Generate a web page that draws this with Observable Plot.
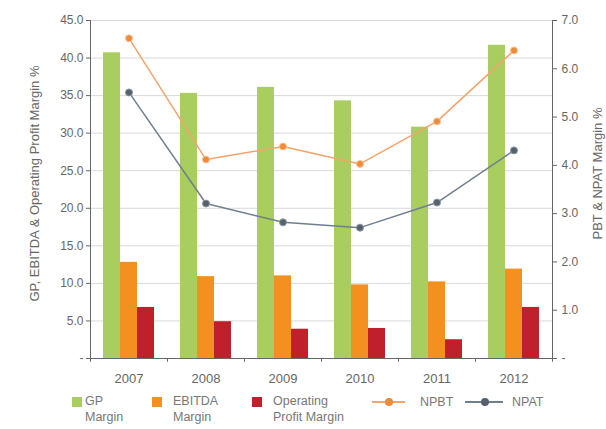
<!DOCTYPE html>
<html><head><meta charset="utf-8">
<script src="https://cdn.jsdelivr.net/npm/d3@7"></script>
<script src="https://cdn.jsdelivr.net/npm/@observablehq/plot@0.6"></script>
<style>
body{margin:0;background:#fff;font-family:"Liberation Sans",Arial,sans-serif;}
#wrap{position:relative;width:606px;height:429px;overflow:hidden;}
#wrap svg{position:absolute;left:0;top:0;}
.lg{position:absolute;font-size:12.5px;color:#777;line-height:16px;white-space:nowrap;}
.sw{position:absolute;width:10px;height:10px;}
.ln{position:absolute;height:2px;}
.mk{position:absolute;width:8px;height:8px;border-radius:50%;}
</style></head><body><div id="wrap"></div>
<script>
const years = ["2007","2008","2009","2010","2011","2012"];
const gpMargin = [40.7,35.3,36.1,34.3,30.8,41.7];
const ebitdaMargin = [12.8,10.9,11.0,9.8,10.2,11.9];
const opMargin = [6.8,4.9,3.9,4.0,2.5,6.8];
const npbt = [6.63,4.12,4.39,4.03,4.91,6.38];
const npat = [5.51,3.21,2.82,2.71,3.23,4.31];
const leftTicks = [0,5,10,15,20,25,30,35,40,45];
const rightTicks = [0,1,2,3,4,5,6,7];
const leftTitle = "GP, EBITDA & Operating Profit Margin %";
const rightTitle = "PBT & NPAT Margin %";
const legendItems = ["GP\nMargin","EBITDA\nMargin","Operating\nProfit Margin","NPBT","NPAT"];

const colors = {gp:"#a9cd5f", ebitda:"#f39020", op:"#c0202c", npbt:"#f4a46c", npbtDot:"#ef8a36", npat:"#6f7f8e", npatDot:"#55626d"};

const rows = years.map((year,i)=>({year, gp:gpMargin[i], ebitda:ebitdaMargin[i], op:opMargin[i], npbt:npbt[i], npat:npat[i]}));
const k = 45/7;
const W=606, H=392, ml=90, mr=54, mt=20, mb=34;
const bw = (W-ml-mr)/years.length;
const barW = 17;
const g0 = (bw - 3*barW)/2;
const bar = (key, i) => Plot.barY(rows, {x:"year", y:key, fill:colors[key], insetLeft: g0 + i*barW, insetRight: bw - g0 - (i+1)*barW});

const chart = Plot.plot({
  width: W, height: H, marginLeft: ml, marginRight: mr, marginTop: mt, marginBottom: mb,
  style: {fontFamily: '"Liberation Sans", Arial, sans-serif', background: "#fff"},
  x: {type:"band", domain: years, padding: 0},
  y: {domain: [0,45]},
  marks: [
    Plot.ruleY(leftTicks.slice(1), {stroke:"#d9d9d9"}),
    bar("gp",0), bar("ebitda",1), bar("op",2),
    Plot.ruleY([0], {stroke:"#666"}),
    Plot.ruleX([years[0]], {x: d=>d, dx: -bw/2, y1:0, y2:45, stroke:"#666"}),
    Plot.ruleX([years[years.length-1]], {x: d=>d, dx: bw/2, y1:0, y2:45, stroke:"#666"}),
    Plot.ruleX(years, {x: d=>d, dx: -bw/2, y1:0, y2:-0.5, stroke:"#666"}),
    Plot.ruleX([years[years.length-1]], {x: d=>d, dx: bw/2, y1:0, y2:-0.5, stroke:"#666"}),
    Plot.axisY(leftTicks, {anchor:"left", tickSize:4, tickPadding:3, tickFormat: d => d===0 ? "-" : d.toFixed(1), fontSize:12, color:"#666", label:null}),
    Plot.axisY(rightTicks.map(v=>v*k), {anchor:"right", tickSize:4, tickPadding:5, tickFormat: d => { const v = Math.round(d/k); return v===0 ? "-" : v.toFixed(1); }, fontSize:12, color:"#666", label:null}),
    Plot.axisX({tickSize:0, tickPadding:15, fontSize:13, color:"#666", label:null}),
    Plot.text([leftTitle], {frameAnchor:"left", textAnchor:"middle", dx:-56, dy:-6, rotate:-90, fontSize:13, fill:"#666"}),
    Plot.text([rightTitle], {frameAnchor:"right", textAnchor:"middle", dx:45, dy:-16, rotate:-90, fontSize:13, fill:"#666"}),
    Plot.line(rows, {x:"year", y: d=>d.npbt*k, stroke:colors.npbt, strokeWidth:1.5}),
    Plot.dot(rows, {x:"year", y: d=>d.npbt*k, r:3.5, fill:colors.npbtDot, stroke:"#f6c49a", strokeWidth:1}),
    Plot.line(rows, {x:"year", y: d=>d.npat*k, stroke:colors.npat, strokeWidth:1.5}),
    Plot.dot(rows, {x:"year", y: d=>d.npat*k, r:3.5, fill:colors.npatDot, stroke:"#8a96a0", strokeWidth:1})
  ]
});
const wrap = document.getElementById("wrap");
wrap.appendChild(chart);

function add(cls, css, text){ const e=document.createElement("div"); e.className=cls; Object.assign(e.style, css); if(text!=null) e.innerText=text; wrap.appendChild(e); return e; }
// legend
add("sw", {left:"72px", top:"397px", background:colors.gp});
add("lg", {left:"85px", top:"393px"}, legendItems[0]);
add("sw", {left:"152px", top:"397px", background:colors.ebitda});
add("lg", {left:"173px", top:"393px"}, legendItems[1]);
add("sw", {left:"252px", top:"397px", background:colors.op});
add("lg", {left:"273px", top:"393px"}, legendItems[2]);
add("ln", {left:"372px", top:"401px", width:"33px", background:colors.npbt});
add("mk", {left:"385px", top:"398px", background:colors.npbtDot});
add("lg", {left:"420px", top:"394px"}, legendItems[3]);
add("ln", {left:"465px", top:"401px", width:"38px", background:colors.npat});
add("mk", {left:"481px", top:"398px", background:colors.npatDot});
add("lg", {left:"512px", top:"394px"}, legendItems[4]);
</script></body></html>
